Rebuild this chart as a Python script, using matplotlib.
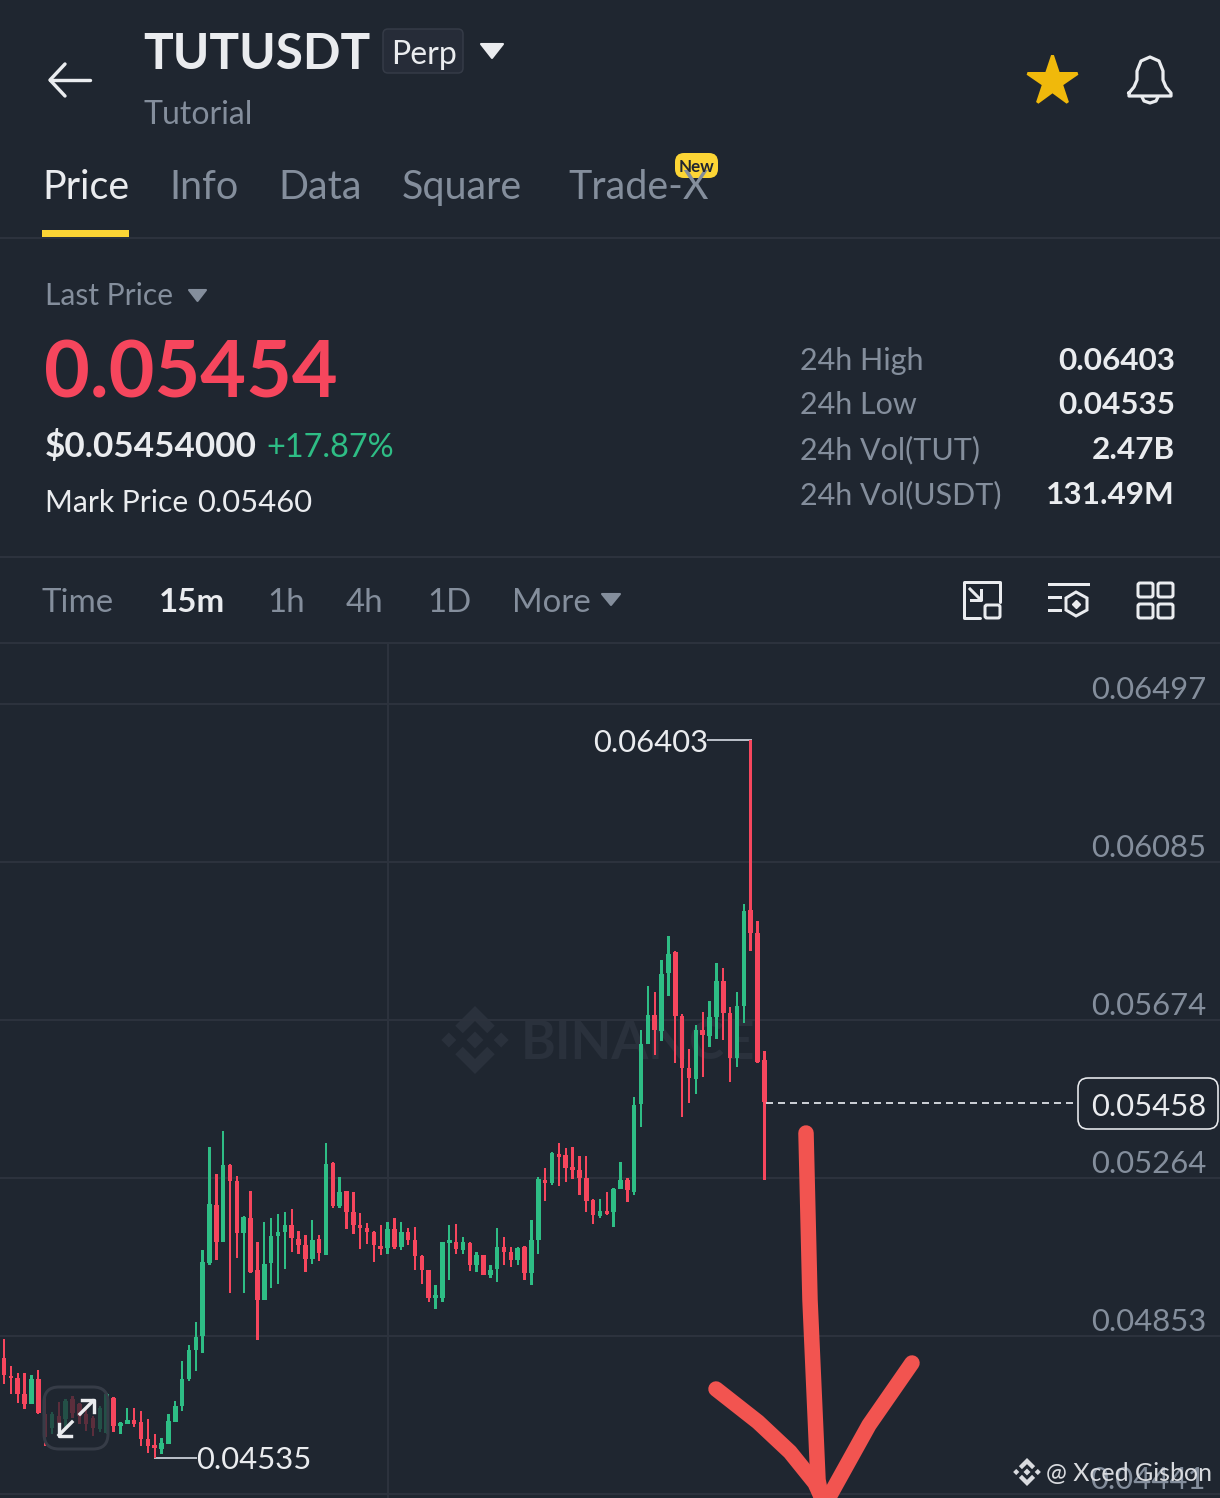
import numpy as np
import matplotlib
matplotlib.use('Agg')
import matplotlib.pyplot as plt
from matplotlib.patches import FancyBboxPatch, Polygon, Rectangle

plt.rcParams['font.family'] = ['Lato', 'DejaVu Sans']

# candle values, in units of 0.00001 USDT
highs = [4844, 4775, 4756, 4756, 4752, 4765, 4700, 4654, 4680, 4687, 4695, 4678, 4661, 4643, 4669, 4704,
         4694, 4628, 4666, 4665, 4658, 4635, 4596, 4587, 4648, 4684, 4786, 4830, 4889, 5077, 5344, 5275,
         5386, 5301, 5269, 5165, 5230, 5096, 5150, 5159, 5170, 5175, 5184, 5126, 5115, 5155, 5114, 5354,
         5306, 5266, 5230, 5228, 5172, 5147, 5125, 5140, 5150, 5159, 5150, 5133, 5136, 5063, 5025, 4986,
         5097, 5142, 5143, 5111, 5096, 5070, 5064, 5038, 5133, 5109, 5085, 5083, 5087, 5155, 5265, 5289,
         5331, 5354, 5341, 5344, 5321, 5321, 5208, 5210, 5228, 5237, 5306, 5263, 5474, 5649, 5764, 5747,
         5831, 5893, 5853, 5690, 5599, 5661, 5695, 5723, 5822, 5809, 5708, 5747, 5977, 6403, 5932, 5595]
lows = [4726, 4700, 4678, 4661, 4674, 4648, 4567, 4596, 4609, 4613, 4639, 4622, 4604, 4591, 4602, 4596,
        4602, 4596, 4622, 4616, 4565, 4548, 4535, 4545, 4571, 4628, 4656, 4734, 4762, 4808, 5038, 5051,
        5096, 4964, 5055, 4964, 5016, 4841, 4945, 4976, 4988, 5027, 5070, 5066, 5018, 5040, 5047, 5062,
        5185, 5185, 5131, 5117, 5079, 5092, 5046, 5062, 5066, 5079, 5077, 5088, 5025, 4987, 4941, 4923,
        4941, 4997, 5065, 5065, 5022, 5018, 5010, 5003, 4994, 5038, 5031, 5036, 4999, 4985, 5065, 5204,
        5244, 5243, 5254, 5262, 5219, 5176, 5143, 5159, 5168, 5136, 5234, 5201, 5220, 5395, 5612, 5583,
        5621, 5736, 5562, 5423, 5459, 5481, 5526, 5605, 5625, 5622, 5512, 5552, 5667, 5855, 5562, 5257]
body_top = [4795, 4749, 4743, 4700, 4740, 4740, 4648, 4648, 4643, 4682, 4687, 4674, 4648, 4639, 4665, 4702,
            4691, 4626, 4633, 4633, 4628, 4583, 4569, 4574, 4632, 4669, 4740, 4815, 4850, 5046, 5196, 5194,
            5298, 5298, 5255, 5162, 5159, 5025, 5040, 5113, 5124, 5142, 5142, 5105, 5090, 5103, 5105, 5300,
            5302, 5226, 5229, 5175, 5142, 5133, 5124, 5087, 5131, 5131, 5124, 5124, 5103, 5061, 5023, 4959,
            5096, 5103, 5098, 5096, 5094, 5064, 5062, 5025, 5083, 5083, 5070, 5081, 5083, 5101, 5262, 5259,
            5328, 5326, 5324, 5292, 5285, 5263, 5205, 5178, 5178, 5234, 5257, 5259, 5454, 5612, 5687, 5687,
            5795, 5846, 5851, 5686, 5549, 5649, 5649, 5682, 5776, 5776, 5692, 5711, 5958, 5961, 5900, 5571]
body_bottom = [4752, 4742, 4702, 4676, 4676, 4652, 4590, 4613, 4626, 4635, 4652, 4643, 4622, 4613, 4609, 4600,
               4617, 4619, 4622, 4624, 4583, 4567, 4560, 4558, 4572, 4629, 4669, 4740, 4815, 4851, 5042, 5098,
               5098, 5255, 5120, 5120, 5020, 4945, 4947, 5042, 5113, 5124, 5107, 5090, 5053, 5053, 5068, 5064,
               5191, 5190, 5175, 5142, 5133, 5123, 5088, 5079, 5081, 5085, 5085, 5103, 5061, 5025, 4952, 4952,
               4952, 5094, 5078, 5077, 5038, 5038, 5012, 5012, 5026, 5070, 5051, 5051, 5016, 5016, 5103, 5250,
               5250, 5319, 5289, 5285, 5263, 5204, 5168, 5165, 5169, 5176, 5236, 5233, 5228, 5455, 5612, 5649,
               5646, 5796, 5684, 5549, 5523, 5521, 5636, 5633, 5682, 5692, 5577, 5577, 5711, 5900, 5566, 5460]
# True = green candle
rising = [0, 0, 0, 0, 1, 0, 0, 1, 0, 1, 0, 0, 0, 0, 1, 1,
          0, 1, 1, 0, 0, 0, 0, 1, 1, 1, 1, 1, 1, 1, 1, 0,
          1, 0, 0, 1, 0, 0, 1, 1, 1, 1, 0, 0, 0, 1, 0, 1,
          0, 1, 0, 0, 0, 0, 0, 0, 1, 0, 1, 0, 0, 0, 0, 1,
          1, 1, 0, 1, 0, 1, 0, 1, 1, 0, 0, 1, 0, 1, 1, 0,
          1, 0, 0, 0, 0, 0, 0, 1, 0, 1, 1, 0, 1, 1, 1, 0,
          1, 1, 0, 0, 0, 1, 0, 1, 1, 0, 0, 1, 1, 0, 0, 0]

price_ticks = [0.06497, 0.06085, 0.05674, 0.05264, 0.04853, 0.04441]
last_price = 0.05458
high_label = 0.06403
low_label = 0.04535

stat_names = ['24h High', '24h Low', '24h Vol(TUT)', '24h Vol(USDT)']
stat_values = ['0.06403', '0.04535', '2.47B', '131.49M']
stat_base = [370, 414, 459, 504]
tabs = ['Price', 'Info', 'Data', 'Square', 'Trade-X']
tab_x = [42, 169, 278, 402, 568]
intervals = ['Time', '15m', '1h', '4h', '1D', 'More']
interval_x = [42, 159, 267, 346, 427, 512]

BG = '#1F2630'
GRID = '#2C323D'
WHITE = '#EAECEF'
GRAY = '#848E9C'
GREEN = '#2EBD85'
RED = '#F6465D'
PX = 1 / 1.3889  # points per pixel at dpi 100

fig = plt.figure(figsize=(12.2, 14.98), dpi=100, facecolor=BG)


def pixel_axes(z):
    a = fig.add_axes([0, 0, 1, 1], zorder=z)
    a.set_xlim(0, 1220)
    a.set_ylim(1498, 0)
    a.axis('off')
    return a


def label(x, y, s, px, color=WHITE, weight='normal', ha='left', ax=None):
    (ax or ui).text(x, y, s, fontsize=px * PX, color=color, fontweight=weight, ha=ha, va='baseline')


def binance_logo(ax, cx, cy, r, color):
    small = [(0, 1), (1, 0), (0, -1), (-1, 0)]
    for ox, oy, s in [(0, 0, 0.25), (-0.77, 0, 0.22), (0.77, 0, 0.22)]:
        ax.add_patch(Polygon([(cx + (ox + p * s) * r, cy + (oy + q * s) * r) for p, q in small], fc=color, ec='none'))
    chevron = [(0, 1), (0.58, 0.42), (0.36, 0.2), (0, 0.56), (-0.36, 0.2), (-0.58, 0.42)]
    for sign in (1, -1):
        ax.add_patch(Polygon([(cx + p * r, cy + sign * q * r) for p, q in chevron], fc=color, ec='none'))


def triangle(ax, x0, x1, y0, y1, color):
    ax.add_patch(Polygon([(x0, y0), (x1, y0), ((x0 + x1) / 2, y1)], fc=color, ec=color, lw=1.5, joinstyle='round'))


def outline(ax, x, y, w, h, lw=3.2, rad=2):
    ax.add_patch(FancyBboxPatch((x, y), w, h, boxstyle=f'round,pad=0,rounding_size={rad}', fc='none', ec=WHITE, lw=lw * PX))


# back layer: watermark
back = pixel_axes(0)
binance_logo(back, 475, 1040, 34, '#2A313C')
label(521, 1059, 'BINANCE', 53, '#2A313C', 'bold', ax=back)

# chart
ax = fig.add_axes([0, 0, 1, 854 / 1498], zorder=1)
ax.patch.set_visible(False)
ax.axis('off')
ax.set_xlim(-4 / 6.85, 1216 / 6.85)
ax.set_ylim(0.044306, 0.066532)

for p in price_ticks:
    ax.axhline(p, color=GRID, lw=2 * PX, zorder=1)
    ax.annotate(f'{p:.5f}', xy=(1, p), xycoords=('axes fraction', 'data'), xytext=(-14, 5), textcoords='offset pixels',
                fontsize=31 * PX, color=GRAY, ha='right', va='baseline', zorder=2)
ax.axvline(56.06, color=GRID, lw=2 * PX, zorder=1)

idx = np.arange(len(highs))
is_up = np.array(rising, dtype=bool)
colors = np.where(is_up, GREEN, RED)
hi = np.array(highs) / 1e5
lo = np.array(lows) / 1e5
top = np.array(body_top) / 1e5
bot = np.array(body_bottom) / 1e5
ax.bar(idx, hi - lo, bottom=lo, width=0.34, color=colors, zorder=3)
ax.bar(idx, np.maximum(top - bot, 0.00002), bottom=bot, width=0.66, color=colors, zorder=3)

# high / low leaders
ax.plot([102.8, 109], [high_label, high_label], color='#B7BDC6', lw=2 * PX, zorder=2)
ax.text(102.8, high_label, f'{high_label:.5f}', fontsize=31 * PX, color=WHITE, ha='right', va='center_baseline')
ax.plot([22, 28.0], [low_label, low_label], color='#B7BDC6', lw=2 * PX, zorder=2)
ax.text(28.0, low_label, f'{low_label:.5f}', fontsize=31 * PX, color=WHITE, ha='left', va='center_baseline')
# last price line
ax.plot([111.2, 156.6], [last_price, last_price], color='#C9CDD3', lw=2 * PX, dashes=(3.5, 2.5), zorder=2)

# front layer: app interface
ui = pixel_axes(2)

for y in (238, 557, 643):
    ui.plot([0, 1220], [y, y], color=GRID, lw=2 * PX)

# header
ui.plot([50, 90], [80, 80], color=WHITE, lw=3.4 * PX, solid_capstyle='round')
ui.plot([65, 50, 65], [64, 80, 96], color=WHITE, lw=3.4 * PX, solid_capstyle='round', solid_joinstyle='round')
label(143, 69, 'TUTUSDT', 49.5, WHITE, 'bold')
ui.add_patch(FancyBboxPatch((383, 29), 80, 44, boxstyle='round,pad=0,rounding_size=5', fc='#262C38', ec='#353B47', lw=1.5 * PX))
label(391, 64, 'Perp', 32, WHITE)
triangle(ui, 481, 503, 44, 58, WHITE)
label(144, 124, 'Tutorial', 32, GRAY)
ui.plot(1052, 81, marker='*', ms=52 * PX, color='#F0B90B', mec='#F0B90B', mew=3 * PX, mfc='#F0B90B')
bell_x = [1129, 1134, 1137, 1137, 1141, 1150, 1159, 1163, 1163, 1166, 1171, 1171, 1129, 1129]
bell_y = [93, 87, 80, 71, 61, 57, 61, 71, 80, 87, 93, 96, 96, 93]
ui.plot(bell_x, bell_y, color=WHITE, lw=3.2 * PX, solid_joinstyle='round')
ui.plot([1142, 1144, 1150, 1156, 1158], [97, 101, 103, 101, 97], color=WHITE, lw=3.2 * PX, solid_capstyle='round')

# tabs
for i, (name, x) in enumerate(zip(tabs, tab_x)):
    label(x, 199, name, 39.5, WHITE if i == 0 else GRAY)
ui.add_patch(Rectangle((42, 230), 87, 8, fc='#FCD535', ec='none'))
ui.add_patch(FancyBboxPatch((675, 153), 43, 25, boxstyle='round,pad=0,rounding_size=9', fc='#FCD535', ec='none'))
label(696.5, 172, 'New', 17, '#202630', 'bold', ha='center')

# price block
label(45, 305, 'Last Price', 30, GRAY)
triangle(ui, 189, 206, 290, 301, GRAY)
label(44, 398, '0.05454', 79, RED, 'bold')
label(45, 457, '$0.05454000', 35, WHITE, 'bold')
label(266, 457, '+17.87%', 32.5, GREEN)
label(45, 512, 'Mark Price', 30, WHITE)
label(197, 512, '0.05460', 31, WHITE)
for name, val, base in zip(stat_names, stat_values, stat_base):
    label(800, base, name, 30.5, GRAY)
    label(1175, base, val, 31.5, WHITE, 'bold', ha='right')

# interval row
for name, x in zip(intervals, interval_x):
    on = name == '15m'
    label(x, 612, name, 33, WHITE if on else GRAY, 'bold' if on else 'normal')
triangle(ui, 602, 620, 594, 605, GRAY)

# toolbar icons
ui.plot([985, 1000, 1000], [582, 582, 602], color=WHITE, lw=3 * PX, solid_capstyle='round')
ui.plot([985, 964, 964, 980], [582, 582, 618, 618], color=WHITE, lw=3 * PX, solid_capstyle='round')
outline(ui, 985, 605, 15, 13, 3)
ui.plot([970, 981], [589, 600], color=WHITE, lw=3 * PX)
ui.plot([981, 981, 971], [590, 600, 600], color=WHITE, lw=3 * PX)
ui.plot([1049, 1088], [584, 584], color=WHITE, lw=3 * PX)
ui.plot([1049, 1060], [597, 597], color=WHITE, lw=3 * PX)
ui.plot([1049, 1060], [610, 610], color=WHITE, lw=3 * PX)
ui.add_patch(Polygon([(1076, 592), (1087, 598), (1087, 610), (1076, 616), (1066, 610), (1066, 598)], fc='none', ec=WHITE, lw=3 * PX))
ui.plot(1076, 604, marker='D', ms=6 * PX, color=WHITE)
for x in (1138, 1158):
    for y in (583, 604):
        outline(ui, x, y, 15, 14, 3)

# price box
ui.add_patch(FancyBboxPatch((1078, 1078), 140, 51, boxstyle='round,pad=0,rounding_size=10', fc=BG, ec=WHITE, lw=1.6 * PX))
label(1206, 1116, f'{last_price:.5f}', 31, WHITE, ha='right')

# zoom button over the candles
ui.add_patch(FancyBboxPatch((44, 1387), 64, 62, boxstyle='round,pad=0,rounding_size=15', fc=BG, alpha=0.72, ec='none'))
ui.add_patch(FancyBboxPatch((44, 1387), 64, 62, boxstyle='round,pad=0,rounding_size=15', fc='none', ec='#363C47', lw=3 * PX))
ui.plot([59, 72], [1435, 1422], color=WHITE, lw=3.4 * PX)
ui.plot([59, 59, 71], [1424, 1436, 1436], color=WHITE, lw=3.4 * PX)
ui.plot([80, 93], [1414, 1401], color=WHITE, lw=3.4 * PX)
ui.plot([82, 94, 94], [1400, 1400, 1412], color=WHITE, lw=3.4 * PX)

# hand drawn arrow
arrow = '#F25450'
ui.plot([806, 810, 818, 824], [1133, 1300, 1480, 1510], color=arrow, lw=15.5 * PX, solid_capstyle='round')
ui.plot([716, 758, 790, 815, 825], [1389, 1422, 1452, 1483, 1505], color=arrow, lw=15.5 * PX, solid_capstyle='round')
ui.plot([912, 869, 829], [1363, 1425, 1497], color=arrow, lw=15.5 * PX, solid_capstyle='round')

# creator watermark
binance_logo(ui, 1027, 1472, 14, '#D9DBDF')
label(1046, 1481, '@ Xced Gisbon', 25, '#D9DBDF')

fig.savefig('out.png', dpi=100, facecolor=BG)
